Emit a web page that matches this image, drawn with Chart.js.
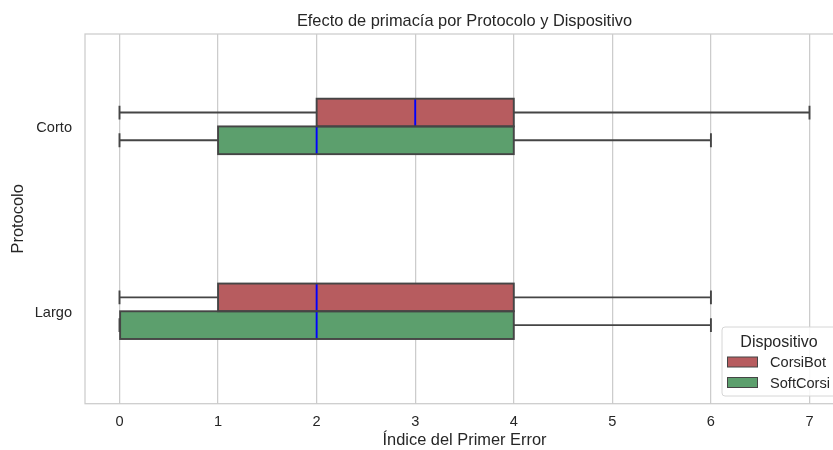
<!DOCTYPE html>
<html>
<head>
<meta charset="utf-8">
<script src="https://cdn.jsdelivr.net/npm/chart.js@4"></script>
<style>
html,body{margin:0;padding:0;overflow:hidden;background:#fff;}
#wrap{width:844px;height:450px;}
</style>
</head>
<body>
<div id="wrap"><canvas id="c" width="844" height="450"></canvas></div>
<script>
const categories = ["Corto", "Largo"];
const seriesNames = ["CorsiBot", "SoftCorsi"];
const colors = ["#b75c5f", "#5c9f6d"];
const xTicks = [0, 1, 2, 3, 4, 5, 6, 7];
const chartTitle = "Efecto de primacía por Protocolo y Dispositivo";
const legendTitle = "Dispositivo";

// [Corto, Largo]
const corsiBotMin = [0, 0];
const corsiBotQ1 = [2, 1];
const corsiBotMedian = [3, 2];
const corsiBotQ3 = [4, 4];
const corsiBotMax = [7, 6];

const softCorsiMin = [0, 0];
const softCorsiQ1 = [1, 0];
const softCorsiMedian = [2, 2];
const softCorsiQ3 = [4, 4];
const softCorsiMax = [6, 6];

const stats = [
  {min: corsiBotMin, q1: corsiBotQ1, med: corsiBotMedian, q3: corsiBotQ3, max: corsiBotMax},
  {min: softCorsiMin, q1: softCorsiQ1, med: softCorsiMedian, q3: softCorsiQ3, max: softCorsiMax}
];

const FONT = "'Liberation Sans', Arial, sans-serif";
const EDGE = "#454545";
const TXT = "#262626";
const LW = 1.9;

const datasets = seriesNames.map((name, i) => ({
  label: name,
  data: categories.map((c, j) => [stats[i].q1[j], stats[i].q3[j]]),
  backgroundColor: colors[i],
  borderWidth: 0,
  categoryPercentage: 0.3,
  barPercentage: 1.0
}));

const boxPlugin = {
  id: 'boxExtras',
  beforeDatasetsDraw(chart) {
    const ctx = chart.ctx, xs = chart.scales.x;
    ctx.save();
    ctx.strokeStyle = EDGE;
    ctx.lineWidth = LW;
    chart.data.datasets.forEach((ds, i) => {
      const meta = chart.getDatasetMeta(i);
      meta.data.forEach((el, j) => {
        const s = stats[i];
        const y = el.y, h = el.height;
        const xmin = xs.getPixelForValue(s.min[j]);
        const xq1 = xs.getPixelForValue(s.q1[j]);
        const xq3 = xs.getPixelForValue(s.q3[j]);
        const xmax = xs.getPixelForValue(s.max[j]);
        ctx.beginPath();
        ctx.moveTo(xmin, y); ctx.lineTo(xq1, y);
        ctx.moveTo(xq3, y); ctx.lineTo(xmax, y);
        ctx.moveTo(xmin, y - h / 4); ctx.lineTo(xmin, y + h / 4);
        ctx.moveTo(xmax, y - h / 4); ctx.lineTo(xmax, y + h / 4);
        ctx.stroke();
      });
    });
    ctx.restore();
  },
  afterDatasetsDraw(chart) {
    const ctx = chart.ctx, xs = chart.scales.x, a = chart.chartArea;
    ctx.save();
    chart.data.datasets.forEach((ds, i) => {
      const meta = chart.getDatasetMeta(i);
      meta.data.forEach((el, j) => {
        const x0 = Math.min(el.base, el.x), x1 = Math.max(el.base, el.x);
        const y0 = el.y - el.height / 2, y1 = el.y + el.height / 2;
        const xm = xs.getPixelForValue(stats[i].med[j]);
        ctx.strokeStyle = "#0000ff";
        ctx.lineWidth = LW;
        ctx.beginPath();
        ctx.moveTo(xm, y0); ctx.lineTo(xm, y1);
        ctx.stroke();
        ctx.strokeStyle = EDGE;
        ctx.lineWidth = LW;
        ctx.strokeRect(x0, y0, x1 - x0, y1 - y0);
      });
    });
    // frame
    ctx.strokeStyle = "#cccccc";
    ctx.lineWidth = 1.25;
    ctx.strokeRect(a.left, a.top, a.right - a.left, a.bottom - a.top);
    // title, centred over the plot area
    ctx.fillStyle = TXT;
    ctx.font = "16.4px " + FONT;
    ctx.textAlign = "center";
    ctx.textBaseline = "alphabetic";
    ctx.fillText(chartTitle, (a.left + a.right) / 2, 25.6);
    ctx.restore();
  },
  afterDraw(chart) {
    const ctx = chart.ctx;
    ctx.save();
    const lx = 722, ly = 327, lw = 114, lh = 69, r = 3;
    ctx.beginPath();
    ctx.moveTo(lx + r, ly);
    ctx.lineTo(lx + lw - r, ly); ctx.quadraticCurveTo(lx + lw, ly, lx + lw, ly + r);
    ctx.lineTo(lx + lw, ly + lh - r); ctx.quadraticCurveTo(lx + lw, ly + lh, lx + lw - r, ly + lh);
    ctx.lineTo(lx + r, ly + lh); ctx.quadraticCurveTo(lx, ly + lh, lx, ly + lh - r);
    ctx.lineTo(lx, ly + r); ctx.quadraticCurveTo(lx, ly, lx + r, ly);
    ctx.closePath();
    ctx.fillStyle = "rgba(255,255,255,0.85)";
    ctx.fill();
    ctx.strokeStyle = "#d6d6d6";
    ctx.lineWidth = 1;
    ctx.stroke();
    ctx.fillStyle = TXT;
    ctx.font = "16px " + FONT;
    ctx.textAlign = "center";
    ctx.textBaseline = "alphabetic";
    ctx.fillText(legendTitle, 779, 346.5);
    ctx.font = "14.6px " + FONT;
    ctx.textAlign = "left";
    seriesNames.forEach((n, i) => {
      const sy = 357 + i * 20.5;
      ctx.fillStyle = colors[i];
      ctx.fillRect(727.5, sy, 30, 10);
      ctx.strokeStyle = EDGE;
      ctx.lineWidth = 1;
      ctx.strokeRect(727.5, sy, 30, 10);
      ctx.fillStyle = TXT;
      ctx.fillText(n, 770, sy + 10.3);
    });
    ctx.restore();
  }
};

new Chart(document.getElementById('c'), {
  type: 'bar',
  data: { labels: categories, datasets },
  options: {
    indexAxis: 'y',
    responsive: false,
    animation: false,
    layout: { padding: { left: 0, right: 0, top: 34, bottom: 0 } },
    plugins: {
      legend: { display: false },
      tooltip: { enabled: false },
      title: { display: false }
    },
    scales: {
      x: {
        type: 'linear',
        min: -0.35,
        max: 7.35,
        afterBuildTicks: (s) => { s.ticks = xTicks.map(v => ({ value: v })); },
        afterFit: (s) => { s.height = 46.3; },
        grid: { color: "#cccccc", lineWidth: 1.25, drawTicks: false },
        border: { display: false },
        ticks: { color: TXT, font: { family: FONT, size: 14.6 }, padding: 10 },
        title: {
          display: true, text: "Índice del Primer Error", color: TXT,
          font: { family: FONT, size: 16.4 }, padding: { top: 0, bottom: 0 }
        }
      },
      y: {
        type: 'category',
        afterFit: (s) => { s.width = 85; },
        grid: { display: false, drawTicks: false },
        border: { display: false },
        ticks: { color: TXT, font: { family: FONT, size: 14.6 }, padding: 13, labelOffset: 1.5 },
        title: {
          display: true, text: "Protocolo", color: TXT,
          font: { family: FONT, size: 16.4 }, padding: { top: 9, bottom: 0 }
        }
      }
    }
  },
  plugins: [boxPlugin]
});
</script>
</body>
</html>
